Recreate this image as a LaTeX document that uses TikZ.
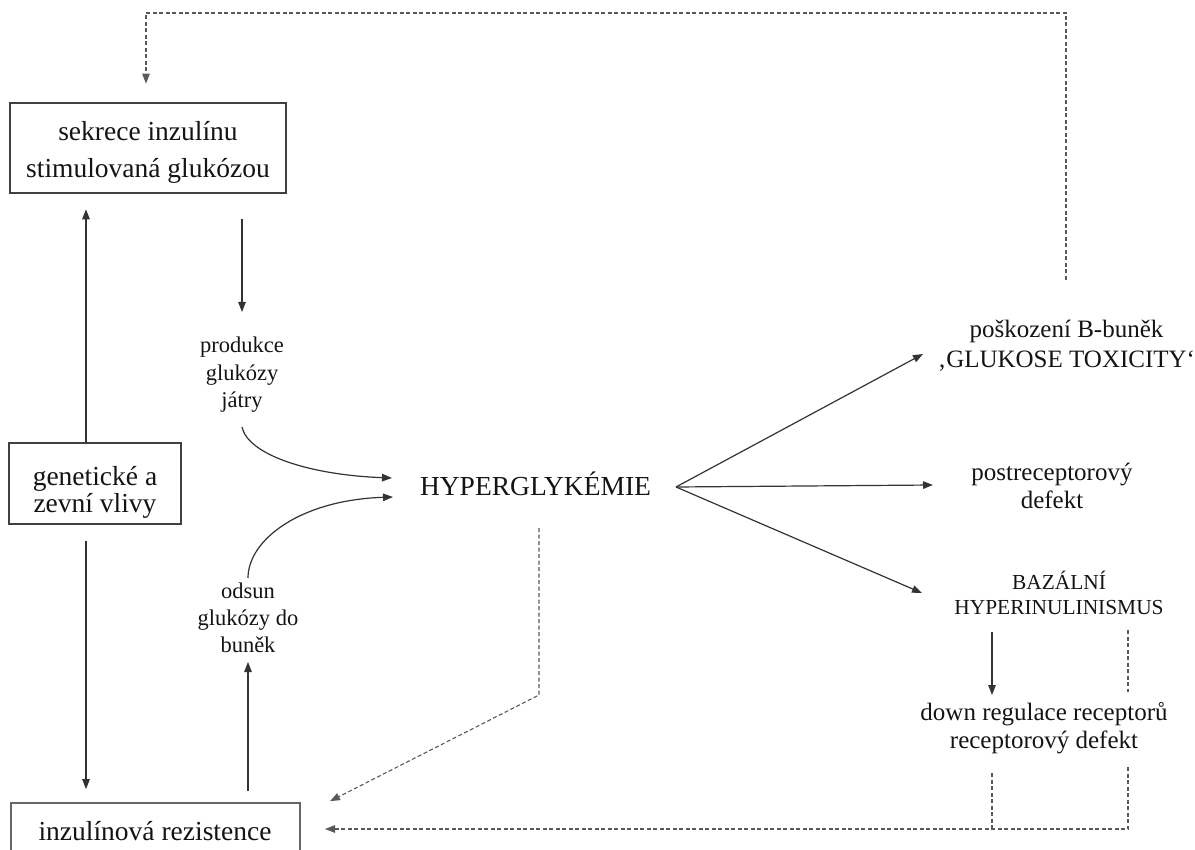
\documentclass[tikz,border=0pt]{standalone}
\usepackage{fontspec}
\setmainfont{Liberation Serif}
\usetikzlibrary{arrows.meta,calc}

\begin{document}
\begin{tikzpicture}[x=1pt,y=-1pt,
  every node/.style={inner sep=0pt, text=black!92},
  frame/.style={draw=black!75, line width=2.6pt},
  thinframe/.style={draw=black!60, line width=1.7pt},
  boxtext/.style={font=\fontsize{27.5}{37}\selectfont, align=center},
  midtext/.style={font=\fontsize{25}{28}\selectfont, align=center},
  smalltext/.style={font=\fontsize{22.5}{27.5}\selectfont, align=center},
  tip/.style={-{Triangle[length=10pt,width=7.5pt]}},
  link/.style={draw=black!80, line width=1.2pt, tip},
  dlink/.style={draw=black!65, line width=1.1pt, dash pattern=on 4pt off 2.5pt},
]
\useasboundingbox (0,0) rectangle (1195,850);
\clip (0,0) rectangle (1195,850);

% boxes on the left
\node[frame, minimum width=276, minimum height=90] (sek) at (148,148) {};
\node[boxtext] (sekT) at (148,152) {sekrece inzulínu\\stimulovaná glukózou};

\node[frame, minimum width=172, minimum height=81] (gen) at (95,483.5) {};
\node[boxtext, font=\fontsize{27.5}{27}\selectfont] (genT) at (95,492) {genetické a\\zevní vlivy};

\node[thinframe, minimum width=289, minimum height=72] (rez) at (155.5,839) {};
\node[boxtext, anchor=base] (rezT) at (155,840) {inzulínová rezistence};

% central node
\node[font=\fontsize{27.5}{33}\selectfont, anchor=base] (hyp) at (535.5,495) {HYPERGLYKÉMIE};

% small labels
\node[smalltext] (prod) at (242,375) {produkce\\glukózy\\játry};
\node[smalltext, font=\fontsize{22.5}{27}\selectfont] (ods) at (248,617.5) {odsun\\glukózy do\\buněk};

% consequences on the right
\node[midtext, font=\fontsize{25}{30}\selectfont] (tox) at (1066.5,346) {poškození B-buněk\\‚GLUKOSE TOXICITY‘};
\node[midtext] (post) at (1052,485.5) {postreceptorový\\defekt};
\node[font=\fontsize{21.4}{25}\selectfont, align=center] (baz) at (1059,593) {BAZÁLNÍ\\HYPERINULINISMUS};
\node[midtext] (down) at (1044,728) {down regulace receptorů\\receptorový defekt};

% feedback from glucose toxicity to secretion
\draw[dlink, tip] ($(tox)+(-0.5,-66)$) -- ++(0,-267) -| ($(sek.north)+(-2,-18)$);

% solid arrows on the left
\draw[link] ($(sek.south)+(94,25)$) -- ($(prod)+(0,-63)$);
\draw[link] ($(gen.north)+(-9,0)$) -- ($(sek.south)+(-62,15)$);
\draw[link] ($(gen.south)+(-9,16)$) -- ($(rez.north)+(-69.5,-13)$);
\draw[link] ($(rez.north)+(92.5,-11)$) -- ($(ods)+(0,44.5)$);

% curved inputs into hyperglycaemia
\draw[link] ($(prod)+(0,52)$) .. controls +(6,28) and +(-82,-3) .. ($(hyp.base)+(-143.5,-17)$);
\draw[link] ($(ods)+(0,-39.5)$) .. controls +(0,-38) and +(-93,3) .. ($(hyp.base)+(-142.5,2)$);

% fan of consequences
\coordinate (fan) at ($(hyp.base)+(140.5,-8)$);
\draw[link] (fan) -- ($(tox)+(-143.5,8)$);
\draw[link] (fan) -- ($(post)+(-119,-0.5)$);
\draw[link] (fan) -- ($(baz)+(-137,0)$);

\draw[link] ($(baz)+(-67,39)$) -- ($(down)+(-52,-33)$);

% dashed returns to insulin resistance
\draw[dlink, tip] ($(hyp.base)+(3.5,33)$) -- ++(0,167) -- ($(rez.north)+(174.5,-1)$);
\draw[dlink] ($(baz)+(69,37)$) -- ++(0,62);
\draw[dlink, tip] ($(down)+(84,39)$) -- ++(0,62) -- ($(rez)+(169.5,-10)$);
\draw[dlink] ($(down)+(-52,45)$) -- ++(0,56);
\end{tikzpicture}
\end{document}
